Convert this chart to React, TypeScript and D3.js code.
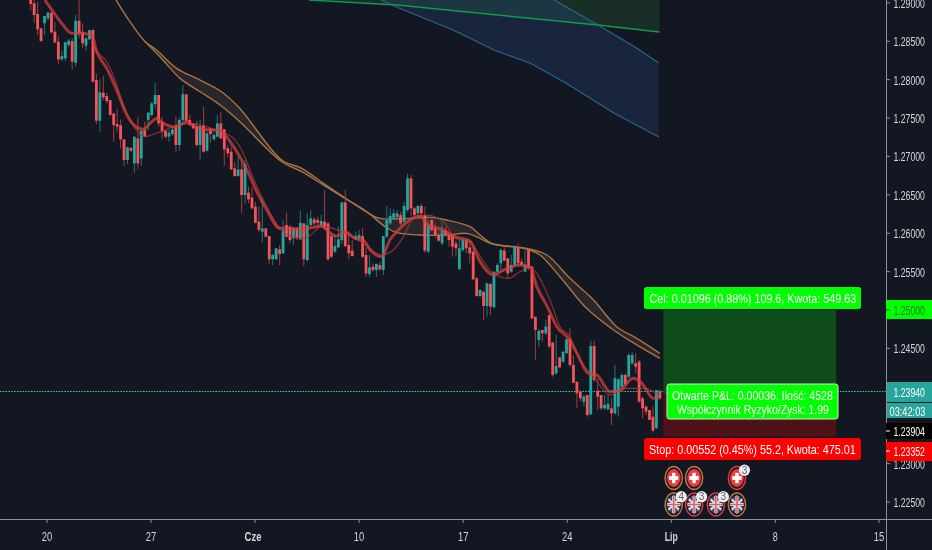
import React from "react";
import * as d3 from "d3";

const W = 932, H = 550;
const opens = [
1.29036,1.28993,1.28854,1.28667,1.28732,1.28797,1.28871,1.28624,1.28494,1.28263,
1.28276,1.28450,1.28502,1.28220,1.28767,1.28624,1.28441,1.28524,1.28645,1.27994,
1.27465,1.27829,1.27786,1.27734,1.27560,1.27422,1.27404,1.27222,1.26953,1.27113,
1.26909,1.27235,1.26974,1.27343,1.27474,1.27539,1.27682,1.27799,1.27452,1.27335,
1.27257,1.27291,1.27387,1.27148,1.27474,1.27808,1.27474,1.27422,1.27395,1.27148,
1.27408,1.27074,1.27365,1.27222,1.27257,1.27430,1.27352,1.27105,1.27061,1.26844,
1.26744,1.26831,1.26497,1.26528,1.26463,1.26345,1.26150,1.26020,1.26063,1.25963,
1.25660,1.25660,1.25790,1.25738,1.26107,1.26085,1.25933,1.26063,1.25920,1.26128,
1.25651,1.26107,1.26180,1.26172,1.26107,1.26150,1.26128,1.25963,1.25759,1.25816,
1.25911,1.26402,1.25846,1.25773,1.25920,1.25933,1.25963,1.25716,1.25469,1.25564,
1.25521,1.25586,1.25521,1.25955,1.26128,1.26193,1.26207,1.26237,1.26150,1.26302,
1.26714,1.26324,1.26259,1.26354,1.26237,1.25759,1.26172,1.26063,1.25976,1.25868,
1.26033,1.25976,1.25977,1.25868,1.25530,1.25781,1.25912,1.25816,1.25760,1.25412,
1.25182,1.25239,1.25052,1.25339,1.25035,1.25499,1.25608,1.25773,1.25673,1.25499,
1.25586,1.25816,1.25630,1.25499,1.25781,1.25564,1.24913,1.24610,1.24740,1.24696,
1.24935,1.24575,1.24176,1.24384,1.24327,1.24436,1.24618,1.24284,1.24067,1.23937,
1.23807,1.23893,1.23642,1.24531,1.23950,1.23893,1.23720,1.23707,1.23720,1.23655,
1.23742,1.24002,1.24154,1.24132,1.24306,1.24306,1.24327,1.23850,1.23742,1.23698,
1.23611,1.23460,1.23937];
const closes = [
1.28984,1.28841,1.28654,1.28502,1.28828,1.28871,1.28615,1.28485,1.28263,1.28307,
1.28485,1.28507,1.28233,1.28767,1.28602,1.28472,1.28537,1.28645,1.27973,1.27465,
1.27834,1.27769,1.27721,1.27539,1.27408,1.27387,1.27222,1.26953,1.27118,1.27074,
1.27257,1.26909,1.27335,1.27257,1.27569,1.27691,1.27799,1.27430,1.27322,1.27257,
1.27309,1.27352,1.27148,1.27474,1.27808,1.27465,1.27408,1.27365,1.27148,1.27395,
1.27061,1.27300,1.27291,1.27278,1.27430,1.27235,1.27092,1.27040,1.26831,1.26744,
1.26831,1.26497,1.26901,1.26441,1.26324,1.26137,1.26042,1.26063,1.25955,1.25660,
1.25716,1.25803,1.25729,1.26042,1.25955,1.25911,1.26063,1.25933,1.26137,1.25660,
1.26107,1.26193,1.26128,1.26137,1.26159,1.26063,1.25660,1.25694,1.25833,1.25920,
1.26402,1.25833,1.25738,1.25703,1.25963,1.25976,1.25694,1.25477,1.25555,1.25521,
1.25599,1.25529,1.25963,1.26172,1.26224,1.26259,1.26259,1.26128,1.26354,1.26714,
1.26324,1.26237,1.26354,1.26259,1.25773,1.26107,1.26042,1.25976,1.25903,1.26033,
1.25976,1.25911,1.25825,1.25803,1.25803,1.25912,1.25803,1.25738,1.25399,1.25182,
1.25261,1.25052,1.25347,1.25044,1.25499,1.25586,1.25781,1.25643,1.25478,1.25586,
1.25825,1.25608,1.25586,1.25586,1.25543,1.24892,1.24740,1.24731,1.24696,1.24783,
1.24523,1.24154,1.24271,1.24254,1.24458,1.24618,1.24284,1.24054,1.23915,1.23850,
1.23872,1.23633,1.24531,1.24089,1.23872,1.23720,1.23763,1.23776,1.23655,1.24111,
1.24097,1.24154,1.24037,1.24414,1.24414,1.24262,1.23807,1.23720,1.23677,1.23568,
1.23429,1.23959,1.23850];
const highs = [
1.29166,1.29036,1.29014,1.28667,1.28828,1.28884,1.28884,1.28754,1.28559,1.28376,
1.28494,1.28528,1.28537,1.28841,1.29036,1.28732,1.28550,1.28645,1.28654,1.28081,
1.28003,1.28046,1.27829,1.27734,1.27560,1.27617,1.27482,1.27222,1.27126,1.27113,
1.27257,1.27517,1.27335,1.27452,1.27582,1.27712,1.27960,1.27799,1.27517,1.27343,
1.27343,1.27365,1.27517,1.27508,1.27929,1.27808,1.27539,1.27430,1.27465,1.27474,
1.27647,1.27322,1.27365,1.27309,1.27539,1.27582,1.27352,1.27148,1.27126,1.26931,
1.26996,1.26931,1.26953,1.26606,1.26597,1.26410,1.26345,1.26467,1.26063,1.25963,
1.25729,1.25803,1.25846,1.26163,1.26267,1.26107,1.26085,1.26085,1.26293,1.26128,
1.26259,1.26302,1.26215,1.26215,1.26237,1.26562,1.26150,1.26007,1.25976,1.26085,
1.26410,1.26562,1.26020,1.25911,1.26020,1.26042,1.26063,1.25816,1.25716,1.25608,
1.25608,1.25629,1.25963,1.26354,1.26324,1.26311,1.26302,1.26280,1.26410,1.26771,
1.26758,1.26345,1.26367,1.26380,1.26345,1.26237,1.26237,1.26128,1.26042,1.26150,
1.26085,1.26020,1.25977,1.25903,1.25912,1.25933,1.25933,1.25903,1.25803,1.25426,
1.25269,1.25239,1.25347,1.25347,1.25499,1.25608,1.25803,1.25825,1.25673,1.25716,
1.25846,1.25868,1.25673,1.25781,1.25781,1.25573,1.24913,1.24748,1.24740,1.24870,
1.24935,1.24588,1.24675,1.24384,1.24458,1.24631,1.24762,1.24414,1.24067,1.23959,
1.23893,1.23893,1.24601,1.24601,1.24111,1.23893,1.23893,1.23915,1.23850,1.24284,
1.24111,1.24176,1.24176,1.24436,1.24458,1.24436,1.24349,1.23872,1.23763,1.23698,
1.23742,1.23959,1.23967];
const lows = [
1.28897,1.28741,1.28580,1.28494,1.28580,1.28767,1.28602,1.28472,1.28203,1.28246,
1.28246,1.28428,1.28133,1.28168,1.28537,1.28407,1.28376,1.28515,1.27960,1.27422,
1.27322,1.27734,1.27691,1.27526,1.27191,1.27322,1.27105,1.26875,1.26901,1.27057,
1.26788,1.26831,1.26875,1.27248,1.27343,1.27517,1.27625,1.27387,1.27222,1.27235,
1.27191,1.27265,1.27061,1.27074,1.27452,1.27452,1.27395,1.27352,1.27126,1.26961,
1.27048,1.27061,1.27178,1.27204,1.27248,1.27222,1.26875,1.26987,1.26823,1.26736,
1.26736,1.26267,1.26389,1.26389,1.26311,1.26128,1.26020,1.25877,1.25946,1.25599,
1.25586,1.25651,1.25586,1.25729,1.25946,1.25868,1.25846,1.25911,1.25911,1.25573,
1.25629,1.26085,1.26107,1.26107,1.26085,1.26042,1.25642,1.25673,1.25738,1.25803,
1.25859,1.25816,1.25660,1.25694,1.25911,1.25911,1.25673,1.25434,1.25425,1.25499,
1.25434,1.25512,1.25456,1.25933,1.26107,1.26172,1.26193,1.26107,1.26128,1.26280,
1.26215,1.26207,1.26237,1.26193,1.25746,1.25738,1.26020,1.25933,1.25890,1.25846,
1.25955,1.25825,1.25695,1.25695,1.25521,1.25760,1.25738,1.25608,1.25391,1.25174,
1.25165,1.24870,1.24913,1.24935,1.25022,1.25478,1.25521,1.25630,1.25412,1.25486,
1.25564,1.25586,1.25564,1.25491,1.25521,1.24879,1.24349,1.24523,1.24588,1.24675,
1.24501,1.24132,1.24154,1.24241,1.24306,1.24436,1.24262,1.24045,1.23720,1.23807,
1.23742,1.23611,1.23633,1.24067,1.23698,1.23698,1.23698,1.23698,1.23503,1.23633,
1.23611,1.23980,1.24024,1.24111,1.24284,1.24176,1.23794,1.23590,1.23633,1.23568,
1.23403,1.23451,1.23828];

const fastBars = [4.1,6.5,9,11.9,14.3,17.6,19.1,22,24.9,27.8,30.7,32.6,34.5,36.4,38.4,41.3,43.2,45.1,47.5,50,54.8,57.7,60.5,63,65.4,68.3,72.1,75,78.4,84.2,86.1,88.5,90.9,93.8,96.2,98.2,101.5,103.9,106.8,109.7,112.6,115,119.4,122.3,127.1,130,133.8,137.2,141.5,144.4,146.4,149.7,152.2,155.5,158,161.3,163.7,167.6,170.5,174.3,176.8,180.1,181.9];
const fastMA = [1.29036,1.28884,1.28732,1.28602,1.28602,1.28580,1.28363,1.28146,1.27864,1.27539,1.27378,1.27352,1.27430,1.27495,1.27430,1.27387,1.27408,1.27452,1.27387,1.27352,1.27335,1.27191,1.26996,1.26779,1.26541,1.26302,1.26063,1.26063,1.26050,1.26094,1.26020,1.25963,1.26020,1.25933,1.25911,1.25781,1.25694,1.25911,1.26063,1.26172,1.26224,1.26107,1.26042,1.25955,1.25890,1.25630,1.25456,1.25530,1.25586,1.25564,1.25304,1.25022,1.24783,1.24631,1.24436,1.24176,1.24154,1.23937,1.23959,1.24111,1.24045,1.23850,1.23872];
const slowBars = [18.1,19.6,22,24.4,26.8,30.2,33.1,37.4,41.3,46.1,54.8,58,62,63.4,67.3,72.1,75.5,79.3,84.2,96.2,101.5,104.9,107.8,110.7,114.5,119.4,122.3,127.1,128,133.8,138.2,141.5,144.4,150.2,153.1,156,158.9,162.8,167.6,172.4,177.2,181.9];
const slowMA = [1.28450,1.28342,1.28233,1.27994,1.27669,1.27365,1.27257,1.27322,1.27387,1.27430,1.27322,1.27260,1.26990,1.26823,1.26432,1.26063,1.25955,1.25933,1.26085,1.25868,1.25716,1.25781,1.25955,1.26193,1.26237,1.26150,1.25976,1.25911,1.25847,1.25478,1.25412,1.25499,1.25543,1.25130,1.24783,1.24653,1.24349,1.24132,1.23893,1.23980,1.23980,1.23893];
const bandUpperBars = [24.7,28.7,33.1,36.4,42.2,49,55.2,60.5,72.6,78.4,84.7,90.4,96.2,101,108.8,115.5,120.3,127.1,130,133.4,143.5,149.3,156,162.8,169.5,175.3,182];
const bandUpper = [1.29036,1.28754,1.28494,1.28385,1.28146,1.27994,1.27842,1.27625,1.26953,1.26845,1.26649,1.26476,1.26302,1.26193,1.26193,1.26206,1.26172,1.26085,1.25977,1.25868,1.25803,1.25716,1.25412,1.25130,1.24783,1.24631,1.24436];
const bandLowerBars = [33.1,37.4,43.2,49,54.8,60.5,72.6,78.4,84.7,90.4,97.2,102.5,105.9,112.6,120.3,126.1,130,133.4,143.5,147.3,153.1,160.8,168.6,175.3,182];
const bandLower = [1.28494,1.28298,1.28016,1.27842,1.27669,1.27452,1.26931,1.26801,1.26627,1.26467,1.26280,1.26085,1.26007,1.25976,1.25976,1.25998,1.25933,1.25860,1.25794,1.25716,1.25434,1.25022,1.24740,1.24545,1.24371];
const blueLowerBars = [101.3,106.5,122.2,134,144.4,154.8,168.7,181.7];
const blueLower = [1.29036,1.28932,1.28646,1.28385,1.28216,1.27956,1.27565,1.27253];
const blueUpperBars = [101.3,151.4,164.1,174.8,181.7];
const blueUpper = [1.30312,1.29036,1.28711,1.28424,1.28216];
const greenBars = [80.5,106,164,181.9];
const greenLine = [1.29036,1.28971,1.28711,1.28620];

const priceTicks = [1.29,1.285,1.28,1.275,1.27,1.265,1.26,1.255,1.245,1.23,1.225];
const timeTicks = ["20","27","Cze","10","17","24","Lip","8","15"];
const timeTickBars = [4.7,34.8,64.9,95,125.1,155.2,185.3,215.4,245.4];
const timeTickWidths = [10.5,10.5,17,10.5,10.5,10.5,13,5,10.5];
const targetPrice = 1.25, entryPrice = 1.23904, stopPrice = 1.23352, lastPrice = 1.2394;
const positionBars = [183, 233];
const eventBars = [186, 191.9, 204.3, 186, 191.9, 198.2, 204.3];
const eventRows = [0, 0, 0, 1, 1, 1, 1];
const eventFlags = ["ch", "ch", "ch", "uk", "uk", "uk", "uk"];
const eventImpact = ["mid", "mid", "high", "mid", "high", "high", "mid"];
const eventBadges = ["", "", "3", "4", "3", "3", ""];

const plotR = 886, plotB = 519;
const x = d3.scaleLinear().domain([0, 100]).range([30.7, 376.4]);
const y = d3.scaleLinear().domain([1.25, 1.3]).range([310, -74]);
const fontF = "'Liberation Sans', Arial, sans-serif";
const UP = "#26a69a", DOWN = "#f4555a", WUP = "#1c6f6d", WDOWN = "#94393f";
const zip = (b: number[], v: number[]) => b.map((d, i) => [x(d), y(v[i])] as [number, number]);
const line = d3.line();
const smooth = d3.line().curve(d3.curveMonotoneX);
const soft = d3.line().curve(d3.curveCatmullRom);

const measureCtx = document.createElement("canvas").getContext("2d");
function Label({ t, x: lx, y: ly, len, fill = "#d4d6dc", anchor = "start", size = 13, weight = 400 }: any) {
  measureCtx!.font = `${weight} ${size}px "Liberation Sans"`;
  const sx = len / measureCtx!.measureText(t).width;
  return (
    <text transform={`translate(${lx},${ly}) scale(${sx.toFixed(3)},1)`} fill={fill} textAnchor={anchor}
      fontSize={size} fontWeight={weight} fontFamily={fontF}>{t}</text>
  );
}

function Flag({ kind, cx, cy, id }: { kind: string; cx: number; cy: number; id: string }) {
  if (kind === "ch") {
    return (
      <g>
        <ellipse cx={cx} cy={cy} rx={6.8} ry={9} fill="#ee3a42" />
        <rect x={cx - 4.6} y={cy - 1.9} width={9.2} height={3.8} fill="#fff" />
        <rect x={cx - 1.7} y={cy - 5.2} width={3.4} height={10.4} fill="#fff" />
      </g>
    );
  }
  return (
    <g clipPath={`url(#${id})`}>
      <clipPath id={id}><ellipse cx={cx} cy={cy} rx={6.8} ry={9} /></clipPath>
      <rect x={cx - 8} y={cy - 10} width={16} height={20} fill="#3b4870" />
      <path d={`M${cx - 8} ${cy - 8}L${cx + 8} ${cy + 8}M${cx - 8} ${cy + 8}L${cx + 8} ${cy - 8}`} stroke="#e8d8dc" strokeWidth={2.2} />
      <path d={`M${cx - 8} ${cy}H${cx + 8}M${cx} ${cy - 10}V${cy + 10}`} stroke="#eee" strokeWidth={3} />
      <path d={`M${cx - 8} ${cy}H${cx + 8}M${cx} ${cy - 10}V${cy + 10}`} stroke="#d8606a" strokeWidth={1.6} />
    </g>
  );
}

export default function App() {
  const bandUp = zip(bandUpperBars.slice(2), bandUpper.slice(2));
  const bandLow = zip(bandLowerBars, bandLower);
  const bandPath = (soft(bandUp) || "") + "L" + (soft([...bandLow].reverse()) || "").slice(1) + "Z";
  const bluePts = [...zip(blueLowerBars, blueLower), ...zip(blueUpperBars, blueUpper).reverse()];
  const greenArea = d3.area<[number, number]>().x(d => d[0]).y0(-5).y1(d => d[1]);
  const barW = 2.8;
  const px0 = x(positionBars[0]), pw = x(positionBars[1]) - px0;
  return (
    <svg width={W} height={H} viewBox={`0 0 ${W} ${H}`}
      style={{ position: "fixed", left: 0, top: 0, display: "block", background: "#131722", filter: "blur(0.35px)" }}>
      <defs>
        <clipPath id="plot"><rect x={0} y={0} width={plotR} height={plotB} /></clipPath>
      </defs>
      <rect width={W} height={H} fill="#131722" />
      <g clipPath="url(#plot)">
        <path d={greenArea(zip(greenBars, greenLine)) || ""} fill="#1a2e28" />
        <path d={(line(bluePts) || "") + "Z"} fill="#2c5da9" fillOpacity={0.2} />
        <path d={line(zip(blueLowerBars, blueLower)) || ""} fill="none" stroke="#26688c" strokeWidth={1.2} />
        <path d={line(zip(blueUpperBars, blueUpper)) || ""} fill="none" stroke="#26688c" strokeWidth={1.2} />
        <path d={line(zip(greenBars, greenLine)) || ""} fill="none" stroke="#0f9a4c" strokeWidth={1.5} />

        <path d={bandPath} fill="#9a7058" fillOpacity={0.18} />
        <path d={soft(zip(bandUpperBars, bandUpper)) || ""} fill="none" stroke="#a87444" strokeWidth={1.4} />
        <path d={soft(bandLow) || ""} fill="none" stroke="#a87444" strokeWidth={1.4} />

        <line x1={0} x2={plotR} y1={Math.floor(y(lastPrice)) + 0.5} y2={Math.floor(y(lastPrice)) + 0.5} stroke="#2fc4b6" strokeWidth={1.2} strokeDasharray="1.6 1.2" />

        {opens.map((o, i) => {
          const c = closes[i], up = c >= o, cx = x(i);
          const top = y(Math.max(o, c)), bot = y(Math.min(o, c));
          return (
            <g key={i}>
              <line x1={cx} x2={cx} y1={y(highs[i])} y2={y(lows[i])} stroke={up ? WUP : WDOWN} strokeWidth={1.1} />
              <rect x={cx - barW / 2} y={top} width={barW} height={Math.max(bot - top, 1)} fill={up ? UP : DOWN} />
            </g>
          );
        })}

        <path d={smooth(zip(slowBars, slowMA)) || ""} fill="none" stroke="#a8363a" strokeWidth={1.1} strokeOpacity={0.85} />
        <path d={smooth(zip(fastBars, fastMA)) || ""} fill="none" stroke="#d8403f" strokeWidth={3} strokeOpacity={0.72} />

        <rect x={px0} y={y(targetPrice)} width={pw} height={y(entryPrice) - y(targetPrice)} fill="#0e4c1c" />
        <rect x={px0} y={y(entryPrice)} width={pw} height={y(stopPrice) - y(entryPrice)} fill="#4e1219" />
      </g>

      {eventBars.map((b, i) => {
        const cx = x(b), cy = eventRows[i] === 0 ? 478 : 504.5;
        return (
          <g key={i}>
            <ellipse cx={cx} cy={cy} rx={8.6} ry={11.5} fill="#131722" stroke={eventImpact[i] === "high" ? "#d83c42" : "#b87a3c"} strokeWidth={1.5} />
            <Flag kind={eventFlags[i]} cx={cx} cy={cy} id={`f${i}`} />
          </g>
        );
      })}
      {eventBars.map((b, i) => {
        const cx = x(b), cy = eventRows[i] === 0 ? 478 : 504.5;
        return eventBadges[i] ? (
          <g key={i}>
            <circle cx={cx + 7.5} cy={cy - 7.8} r={5.6} fill="#eceef2" />
            <text x={cx + 7.5} y={cy - 4.3} textAnchor="middle" fontSize={10} fill="#5d6168" fontFamily={fontF}>{eventBadges[i]}</text>
          </g>
        ) : null;
      })}

      <rect x={644} y={287} width={217} height={22} rx={2.5} fill="#00ff00" />
      <Label t="Cel: 0.01096 (0.88%) 109.6, Kwota: 549.63" x={649.5} y={302.5} len={207} fill="#fff" />
      <rect x={667} y={384} width={171} height={35} rx={2.5} fill="#00ff00" stroke="#dfe5df" strokeWidth={1} />
      <Label t="Otwarte P&L: 0.00036, Ilość: 4528" x={672} y={399.5} len={161} fill="#fff" size={12} />
      <Label t="Współczynnik Ryzyko/Zysk: 1.99" x={677} y={413.5} len={152} fill="#fff" size={12} />
      <rect x={644} y={438} width={217} height={22} rx={2.5} fill="#ff0000" />
      <Label t="Stop: 0.00552 (0.45%) 55.2, Kwota: 475.01" x={649} y={453.5} len={207} fill="#fff" />

      <line x1={plotR + 0.5} x2={plotR + 0.5} y1={0} y2={H} stroke="#8e919a" />
      <line x1={0} x2={W} y1={plotB + 0.5} y2={plotB + 0.5} stroke="#8e919a" />

      {priceTicks.map(t => (
        <g key={t}>
          <line x1={plotR} x2={plotR + 4} y1={y(t)} y2={y(t)} stroke="#8e919a" />
          <Label t={t.toFixed(5)} x={893.5} y={y(t) + 5} len={31.5} />
        </g>
      ))}
      {timeTicks.map((t, i) => (
        <g key={t}>
          <line x1={x(timeTickBars[i])} x2={x(timeTickBars[i])} y1={plotB} y2={plotB + 4} stroke="#8e919a" />
          <Label t={t} x={x(timeTickBars[i]) - (t === "Cze" ? 2 : 0)} y={541} anchor="middle" len={timeTickWidths[i]}
            weight={t === "Cze" || t === "Lip" ? 700 : 400} />
        </g>
      ))}

      <rect x={886} y={300} width={46} height={19} fill="#00ff00" />
      <line x1={886} x2={890} y1={310} y2={310} stroke="#0a5a0a" />
      <Label t="1.25000" x={893.5} y={314.5} len={31.5} fill="#0f7a0f" />
      <rect x={887} y={382} width={45} height={20} fill={UP} />
      <Label t="1.23940" x={893.5} y={396.5} len={31.5} fill="#fff" />
      <rect x={887} y={403} width={45} height={15} fill={UP} />
      <Label t="03:42:03" x={889.5} y={415.5} len={36} fill="#fff" />
      <rect x={886} y={423} width={46} height={16} fill="#000" />
      <line x1={886} x2={890} y1={431} y2={431} stroke="#fff" />
      <Label t="1.23904" x={893.5} y={435.5} len={31.5} fill="#fff" />
      <rect x={886} y={442} width={46} height={19} fill="#ff0000" />
      <line x1={886} x2={890} y1={451} y2={451} stroke="#fff" />
      <Label t="1.23352" x={893.5} y={456} len={31.5} fill="#fff" />
    </svg>
  );
}
